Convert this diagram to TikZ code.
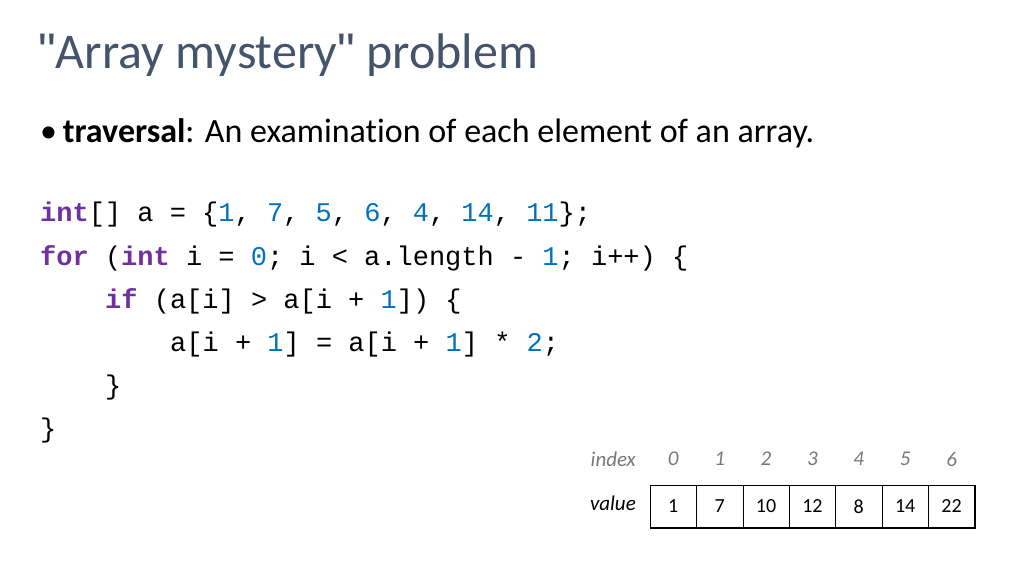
\documentclass[tikz,border=0pt]{standalone}
\usepackage{fontspec}
\setmainfont{Carlito}[Ligatures={NoCommon}]
\setmonofont{Liberation Mono}
\newfontfamily\qfont{Liberation Sans}[Mapping=]
\definecolor{titlec}{RGB}{68,84,106}
\definecolor{kw}{RGB}{112,48,160}
\definecolor{num}{RGB}{0,112,192}
\definecolor{idx}{RGB}{120,120,120}
\newcommand{\kw}[1]{\textcolor{kw}{\textbf{#1}}}
\newcommand{\nm}[1]{\textcolor{num}{#1}}
\newcommand{\sq}{{\qfont\symbol{"22}}}
\begin{document}
\begin{tikzpicture}[x=1pt,y=-1pt,
  codeline/.style={anchor=west,inner sep=0,font=\ttfamily\fontsize{27}{27}\selectfont},
  cell/.style={draw,minimum width=46.4pt,minimum height=43pt,inner sep=0,font=\fontsize{20}{20}\selectfont},
  idxlab/.style={text=idx,font=\itshape\fontsize{21}{21}\selectfont,inner sep=0}]
\useasboundingbox (0,0) rectangle (1024,576);
\node[anchor=west,inner sep=0,text=titlec,font=\fontsize{50}{50}\selectfont] (title) at (38,55) {\sq Array mystery\sq{} problem};
\node[anchor=west,inner sep=0,font=\fontsize{34}{34}\selectfont] (bul) at (40,133) {\textbullet\,\textbf{traversal}: An examination of each element of an array.};
\node[codeline] (c1) at (40,215) {\kw{int}[] a = \{\nm{1}, \nm{7}, \nm{5}, \nm{6}, \nm{4}, \nm{14}, \nm{11}\};};
\node[codeline] (c2) at (40,258) {\kw{for} (\kw{int} i = \nm{0}; i < a.length - \nm{1}; i++) \{};
\node[codeline] (c3) at (105,301) {\kw{if} (a[i] > a[i + \nm{1}]) \{};
\node[codeline] (c4) at (170,345) {a[i + \nm{1}] = a[i + \nm{1}] * \nm{2};};
\node[codeline] (c5) at (105,388) {\}};
\node[codeline] (c6) at (40,431) {\}};
\node[idxlab,anchor=east] (il) at (636,459) {index};
\node[inner sep=0,anchor=east,font=\itshape\fontsize{21}{21}\selectfont] (vl) at (636,503) {value};
\foreach \v [count=\i from 0] in {1,7,10,12,8,14,22}{
  \node[cell] (v\i) at ({673.2+46.4*\i},506.5) {\v};
  \node[idxlab] (i\i) at ({673.2+46.4*\i},459) {\i};
}
\draw[line width=2pt] (v0.south west) -- (v6.south east) -- (v6.north east);
\end{tikzpicture}
\end{document}
